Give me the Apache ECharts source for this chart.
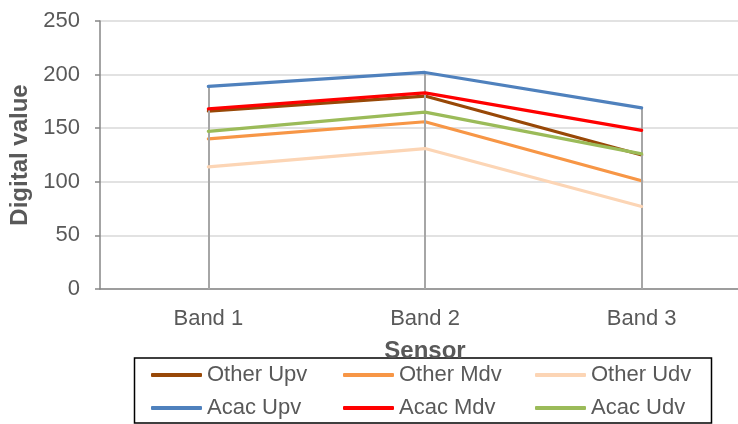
<!DOCTYPE html>
<html>
<head>
<meta charset="utf-8">
<script src="https://cdn.jsdelivr.net/npm/echarts@6/dist/echarts.min.js"></script>
<style>
  html, body { margin: 0; padding: 0; background: #ffffff; }
  #chart { width: 738px; height: 424px; }
</style>
</head>
<body>
<div id="chart"></div>
<script>
// Sensor bands on the x axis
const bands = ['Band 1', 'Band 2', 'Band 3'];

// Digital values per band
const otherUpv = [166, 180, 125];
const otherMdv = [140, 156, 101];
const otherUdv = [114, 131, 77];
const acacUpv  = [189, 202, 169];
const acacMdv  = [168, 183, 148];
const acacUdv  = [147, 165, 126];

const yTicks = { min: 0, max: 250, step: 50 };

const FONT = '"Liberation Sans", Arial, sans-serif';
const TEXT = '#595959';

const seriesDefs = [
  { name: 'Other Upv', data: otherUpv, color: '#984807' },
  { name: 'Other Mdv', data: otherMdv, color: '#F79646' },
  { name: 'Other Udv', data: otherUdv, color: '#FCD5B5' },
  { name: 'Acac Upv',  data: acacUpv,  color: '#4F81BD' },
  { name: 'Acac Mdv',  data: acacMdv,  color: '#FF0000' },
  { name: 'Acac Udv',  data: acacUdv,  color: '#9BBB59' }
];

// Drop lines from the highest value in each band down to the axis
const allSeries = seriesDefs.map(s => s.data);
const dropLines = bands.map((b, i) => {
  const top = Math.max(...allSeries.map(d => d[i]));
  return [{ coord: [b, 0] }, { coord: [b, top] }];
});

const series = seriesDefs.map((s, idx) => {
  const item = {
    name: s.name,
    type: 'line',
    data: s.data,
    symbol: 'none',
    z: 3 + idx,
    lineStyle: { color: s.color, width: 3.2, cap: 'round', join: 'round' },
    itemStyle: { color: s.color },
    emphasis: { disabled: true },
    animation: false
  };
  if (idx === 0) {
    item.markLine = {
      silent: true,
      symbol: 'none',
      label: { show: false },
      lineStyle: { color: '#A6A6A6', width: 2, type: 'solid' },
      data: dropLines,
      animation: false
    };
  }
  return item;
});

const chart = echarts.init(document.getElementById('chart'), null, { renderer: 'canvas' });
chart.setOption({
  backgroundColor: '#ffffff',
  animation: false,
  textStyle: { fontFamily: FONT },
  // plot area runs past the right edge of the canvas
  grid: {
    left: 100, top: 21, right: -12, bottom: 135,
    containLabel: false,
    outerBoundsMode: 'none'
  },
  xAxis: {
    type: 'category',
    data: bands,
    boundaryGap: true,
    name: 'Sensor',
    nameLocation: 'middle',
    nameGap: 50,
    nameTextStyle: { color: TEXT, fontSize: 24, fontWeight: 'bold', fontFamily: FONT },
    axisLine: { show: true, lineStyle: { color: '#868686', width: 1.5 } },
    axisTick: { show: false },
    axisLabel: { color: TEXT, fontSize: 22, margin: 19, fontFamily: FONT },
    splitLine: { show: false }
  },
  yAxis: {
    type: 'value',
    min: yTicks.min,
    max: yTicks.max,
    interval: yTicks.step,
    name: 'Digital value',
    nameLocation: 'middle',
    nameGap: 62,
    nameTextStyle: { color: TEXT, fontSize: 24, fontWeight: 'bold', fontFamily: FONT },
    axisLine: { show: true, lineStyle: { color: '#868686', width: 1.5 } },
    axisTick: { show: true, length: 5, lineStyle: { color: '#868686', width: 1.5 } },
    axisLabel: { color: TEXT, fontSize: 22, margin: 20, fontFamily: FONT },
    splitLine: { show: true, lineStyle: { color: '#D9D9D9', width: 1.5 } }
  },
  legend: {
    left: 151,
    top: 358.5,
    width: 590,
    orient: 'horizontal',
    itemWidth: 51,
    itemHeight: 4,
    itemGap: 0,
    itemTextGap: 5,
    icon: 'roundRect',
    selectedMode: false,
    data: seriesDefs.map(s => s.name),
    textStyle: {
      color: TEXT,
      fontSize: 22,
      fontFamily: FONT,
      width: 136,
      lineHeight: 33
    },
    padding: 0
  },
  graphic: [{
    type: 'rect',
    silent: true,
    shape: { x: 134.5, y: 358, width: 577, height: 65 },
    style: { fill: 'none', stroke: '#000000', lineWidth: 1.5 }
  }],
  series: series
});
</script>
</body>
</html>
